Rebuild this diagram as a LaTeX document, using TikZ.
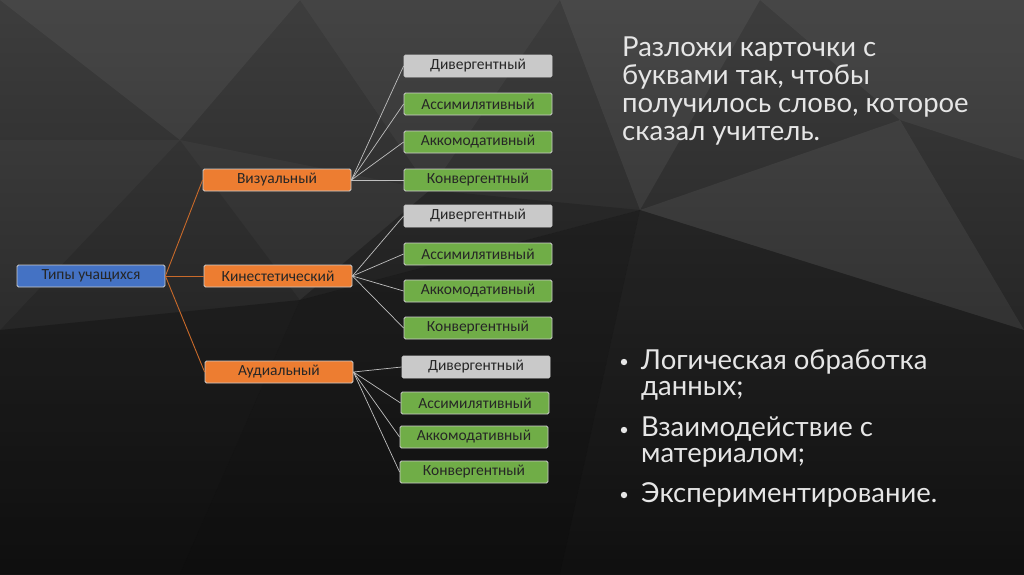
\documentclass[tikz,border=0pt]{standalone}
\usepackage{fontspec}
\setmainfont{Carlito}
\newfontfamily\slidefont{Lato}
\usetikzlibrary{positioning}

\definecolor{cardblue}{HTML}{4472C4}
\definecolor{cardorange}{HTML}{ED7D31}
\definecolor{cardgreen}{HTML}{70AD47}
\definecolor{cardgray}{HTML}{C9C9C9}
\definecolor{slidetext}{HTML}{E6E6E6}

\tikzset{
  card/.style={draw=white!80!black, line width=0.8pt, rounded corners=1.5pt,
    minimum width=148pt, minimum height=22pt, inner sep=0pt,
    font=\fontsize{15.5}{17}\selectfont, text=black!85},
  rootcard/.style={card, fill=cardblue},
  midcard/.style={card, fill=cardorange},
  leafcard/.style={card, fill=cardgreen},
  firstcard/.style={card, fill=cardgray},
  trunk/.style={cardorange!85!black, line width=0.9pt},
  spoke/.style={white!75!black, line width=0.7pt},
  facet/.style={fill=white, opacity=#1},
  shade/.style={fill=black, opacity=#1},
  slidetxt/.style={anchor=north west, align=left, text=slidetext, inner sep=0pt}
}

\begin{document}
\begin{tikzpicture}[x=1pt, y=-1pt]
    % background
    \shade [top color=black!76, bottom color=black!92] (0, 0) rectangle (1024, 574);
    \fill [facet=0.05] (0, 0) -- (300, 0) -- (180, 140) -- cycle;
    \fill [facet=0.04] (300, 0) -- (560, 0) -- (430, 190) -- cycle;
    \fill [facet=0.06] (560, 0) -- (760, 0) -- (640, 210) -- cycle;
    \fill [facet=0.05] (760, 0) -- (1024, 0) -- (1024, 160) -- (900, 120) -- cycle;
    \fill [facet=0.03] (180, 140) -- (430, 190) -- (300, 300) -- cycle;
    \fill [facet=0.06] (640, 210) -- (900, 120) -- (1024, 330) -- cycle;
    \fill [facet=0.03] (0, 140) -- (180, 140) -- (0, 330) -- cycle;
    \fill [shade=0.25] (0, 330) -- (300, 300) -- (180, 574) -- (0, 574) -- cycle;
    \fill [shade=0.3] (300, 300) -- (640, 210) -- (560, 574) -- (180, 574) -- cycle;
    \fill [shade=0.2] (640, 210) -- (1024, 330) -- (1024, 574) -- (560, 574) -- cycle;
    \fill [shade=0.15] (430, 190) -- (640, 210) -- (300, 300) -- cycle;

    % tree
    \node [rootcard] (types) at (91, 276) {Типы учащихся};

    \node [midcard] (visual) at (277, 180) {Визуальный};
    \node [midcard] (kin) at (278, 276) {Кинестетический};
    \node [midcard] (audio) at (279, 372) {Аудиальный};

    \node [firstcard] (vis1) at (478, 66) {Дивергентный};
    \node [leafcard] (vis2) at (478, 104) {Ассимилятивный};
    \node [leafcard] (vis3) at (478, 142) {Аккомодативный};
    \node [leafcard] (vis4) at (478, 180) {Конвергентный};

    \node [firstcard] (kin1) at (478, 216) {Дивергентный};
    \node [leafcard] (kin2) at (478, 254) {Ассимилятивный};
    \node [leafcard] (kin3) at (478, 291) {Аккомодативный};
    \node [leafcard] (kin4) at (478, 328) {Конвергентный};

    \node [firstcard] (aud1) at (476, 367) {Дивергентный};
    \node [leafcard] (aud2) at (475, 403) {Ассимилятивный};
    \node [leafcard] (aud3) at (474, 437) {Аккомодативный};
    \node [leafcard] (aud4) at (474, 472) {Конвергентный};

    \foreach \m in {visual, kin, audio}
        \draw [trunk] (types.east) -- (\m.west);
    \foreach \i in {1, ..., 4} {
        \draw [spoke] (visual.east) -- (vis\i.west);
        \draw [spoke] (kin.east) -- (kin\i.west);
        \draw [spoke] (audio.east) -- (aud\i.west);
    }

    % task text
    \node [slidetxt, font=\slidefont\fontsize{27.5}{28}\selectfont] (task) at (622, 37)
        {Разложи карточки с\\ буквами так, чтобы\\ получилось слово, которое\\ сказал учитель.};

    % bullets
    \node [slidetxt, font=\slidefont\fontsize{27.5}{26}\selectfont] (item1) at (641, 349)
        {Логическая обработка\\ данных;};
    \node [slidetxt, font=\slidefont\fontsize{27.5}{26}\selectfont] (item2) at (641, 417)
        {Взаимодействие с\\ материалом;};
    \node [slidetxt, font=\slidefont\fontsize{27.5}{26}\selectfont] (item3) at (641, 482)
        {Экспериментирование.};
    \foreach \b in {item1, item2, item3}
        \fill [slidetext] ([xshift=-17pt, yshift=-13pt]\b.north west) circle (3.2pt);
\end{tikzpicture}
\end{document}
